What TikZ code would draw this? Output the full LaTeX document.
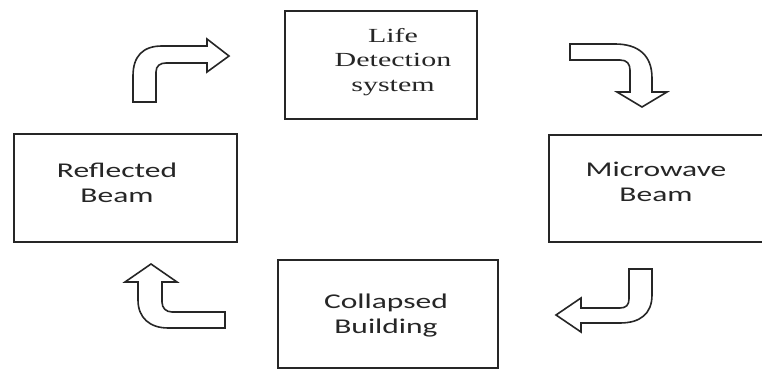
\documentclass[tikz,border=0pt]{standalone}
\usepackage{fontspec}
\setmainfont{Liberation Serif}
\setsansfont{Carlito}
\usepackage{graphicx}
\usetikzlibrary{fit}
% text is stretched sideways as in the scanned figure
\newcommand{\wider}[1]{\scalebox{1.5}[1]{\begin{tabular}{@{}c@{}}#1\end{tabular}}}
\tikzset{
  box/.style={draw=black!85, line width=0.8pt, inner sep=0pt},
  boxtext/.style={text=black!85, font=\fontsize{10.5}{12.4}\selectfont\sffamily, inner sep=0pt},
  serftext/.style={text=black!85, font=\fontsize{10}{12.4}\selectfont\rmfamily, inner sep=0pt},
  blockarrow/.style={draw=black!85, fill=white, line width=0.8pt, line join=miter}
}
\begin{document}
\begin{tikzpicture}[x=0.5pt, y=-0.5pt]
  \useasboundingbox (0,0) rectangle (762,378);
  \clip (0,0) rectangle (762,378);
  % boxes
  \node[box, fit={(285,11) (477,119)}] (life) {};
  \node[box, fit={(549,135) (775,242)}] (micro) {};
  \node[box, fit={(278,260) (498,368)}] (building) {};
  \node[box, fit={(14,134) (237,242)}] (reflect) {};
  % box texts
  \node[serftext] (lifetext) at (393,62) {\wider{Life\\Detection\\system}};
  \node[boxtext] (microtext) at (656,184) {\wider{Microwave\\Beam}};
  \node[boxtext] (buildtext) at (386,316) {\wider{Collapsed\\Building}};
  \node[boxtext] (reflecttext) at (117,185) {\wider{Reflected\\Beam}};
  % arrow 1: up and right, towards the top box
  \draw[blockarrow] (133,102) -- (133,76) .. controls (133,56) and (143,46) .. (162,46)
    -- (207,46) -- (207,39) -- (229,56) -- (207,72) -- (207,63) -- (166,63)
    .. controls (160,63) and (156,66) .. (156,72) -- (156,102) -- cycle;
  % arrow 2: right and down
  \draw[blockarrow] (570,44) -- (615,44) .. controls (638,44) and (652,55) .. (652,78)
    -- (652,92) -- (667,92) -- (642,107) -- (617,92) -- (630,92) -- (630,70)
    .. controls (630,64) and (627,60) .. (620,60) -- (570,60) -- cycle;
  % arrow 3: down and left
  \draw[blockarrow] (629,269) -- (652,269) -- (652,295) .. controls (652,314) and (640,323) .. (620,323)
    -- (581,323) -- (581,332) -- (556,315) -- (581,298) -- (581,308) -- (620,308)
    .. controls (626,308) and (629,305) .. (629,299) -- cycle;
  % arrow 4: left and up
  \draw[blockarrow] (225,312) -- (172,312) .. controls (166,312) and (162,308) .. (162,302)
    -- (162,282) -- (177,282) -- (151,264) -- (125,282) -- (138,282) -- (138,300)
    .. controls (138,318) and (150,328) .. (168,328) -- (225,328) -- cycle;
\end{tikzpicture}
\end{document}
